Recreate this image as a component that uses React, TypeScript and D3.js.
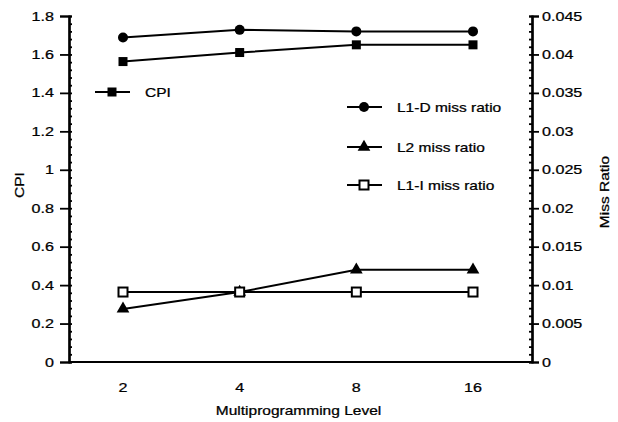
import React, { useEffect, useRef } from "react";
import * as d3 from "d3";

// Multiprogramming levels on the x axis
const levels = ["2", "4", "8", "16"];
// Cycles per instruction (left axis)
const cpi = [1.563, 1.61, 1.65, 1.65];
// Miss ratios (right axis)
const l1dMiss = [0.0422, 0.0432, 0.0430, 0.0430];
const l2Miss = [0.0069, 0.0091, 0.0120, 0.0120];
const l1iMiss = [0.0091, 0.0091, 0.0091, 0.0091];

const leftTicks = [0, 0.2, 0.4, 0.6, 0.8, 1, 1.2, 1.4, 1.6, 1.8];
const rightTicks = [0, 0.005, 0.01, 0.015, 0.02, 0.025, 0.03, 0.035, 0.04, 0.045];

const W = 618;
const H = 422;
const FONT = "'Liberation Sans', Arial, Helvetica, sans-serif";
const STRETCH = 1.24; // wide, Helvetica-style lettering

export default function App() {
  const ref = useRef<SVGSVGElement | null>(null);

  useEffect(() => {
    const svg = d3.select(ref.current);
    svg.selectAll("*").remove();

    const left = 69, right = 532, top = 16, bottom = 362;

    const x = d3.scalePoint<string>().domain(levels).range([123, 473]);
    const yL = d3.scaleLinear().domain([0, 1.8]).range([bottom, top]);
    const yR = d3.scaleLinear().domain([0, 0.045]).range([bottom, top]);
    const fmt = d3.format("~g");

    // text placed at an anchor point, widened horizontally around that point
    const label = (
      parent: any,
      t: string,
      tx: number,
      ty: number,
      anchor: string,
      rot = 0,
      size = 13
    ) =>
      parent
        .append("text")
        .attr("transform", `translate(${tx},${ty}) rotate(${rot}) scale(${STRETCH},1)`)
        .attr("text-anchor", anchor)
        .attr("font-family", FONT)
        .attr("font-size", size)
        .attr("fill", "#000")
        .attr("stroke", "#000")
        .attr("stroke-width", 0.25)
        .text(t);

    const g = svg.append("g");

    // left axis: major ticks outside, minor ticks inside
    const la = g.append("g").attr("transform", `translate(${left},0)`);
    la.call(d3.axisLeft(yL).tickValues(leftTicks).tickSize(9).tickFormat(() => ""));
    la.append("g").call(
      d3.axisRight(yL).tickValues(d3.range(0, 1.8001, 0.04)).tickSize(3).tickFormat(() => "")
    );
    leftTicks.forEach((v) => label(g, fmt(v), left - 15, yL(v) + 4.6, "end"));

    // right axis
    const ra = g.append("g").attr("transform", `translate(${right},0)`);
    ra.call(d3.axisRight(yR).tickValues(rightTicks).tickSize(7).tickFormat(() => ""));
    ra.append("g").call(
      d3.axisLeft(yR).tickValues(d3.range(0, 0.04501, 0.001)).tickSize(3).tickFormat(() => "")
    );
    rightTicks.forEach((v) => label(g, fmt(v), right + 10, yR(v) + 4.6, "start"));

    // bottom axis
    g.append("line")
      .attr("x1", left)
      .attr("x2", right)
      .attr("y1", bottom)
      .attr("y2", bottom)
      .attr("stroke", "#000")
      .attr("stroke-width", 2.2);
    levels.forEach((d) => label(g, d, x(d)!, bottom + 30, "middle"));

    g.selectAll(".domain").attr("stroke", "#000").attr("stroke-width", 2.2);
    g.selectAll(".tick line").attr("stroke", "#000").attr("stroke-width", 1.8);

    // axis titles
    label(svg, "Multiprogramming Level", (left + right) / 2 - 2, 415, "middle", 0, 12.5);
    label(svg, "CPI", 24, 185, "middle", -90, 12.5);
    label(svg, "Miss Ratio", 609, 192, "middle", -90, 12.5);

    const line = (yScale: d3.ScaleLinear<number, number>) =>
      d3.line<number>().x((_, i) => x(levels[i])!).y((d) => yScale(d));

    const series = [
      { data: cpi, y: yL, marker: "sq" },
      { data: l1dMiss, y: yR, marker: "circle" },
      { data: l2Miss, y: yR, marker: "tri" },
      { data: l1iMiss, y: yR, marker: "open" },
    ];

    const drawMarker = (sel: any, kind: string, cx: number, cy: number) => {
      if (kind === "sq") {
        sel.append("rect").attr("x", cx - 4.5).attr("y", cy - 4.5).attr("width", 9).attr("height", 9).attr("fill", "#000");
      } else if (kind === "circle") {
        sel.append("circle").attr("cx", cx).attr("cy", cy).attr("r", 5).attr("fill", "#000");
      } else if (kind === "tri") {
        sel.append("path")
          .attr("d", d3.symbol(d3.symbolTriangle, 70)())
          .attr("transform", `translate(${cx},${cy})`)
          .attr("fill", "#000");
      } else {
        sel.append("rect").attr("x", cx - 4.5).attr("y", cy - 4.5).attr("width", 9).attr("height", 9)
          .attr("fill", "#fff").attr("stroke", "#000").attr("stroke-width", 2);
      }
    };

    const plot = svg.append("g");
    series.forEach((s) => {
      plot.append("path")
        .datum(s.data)
        .attr("d", line(s.y))
        .attr("fill", "none")
        .attr("stroke", "#000")
        .attr("stroke-width", 2);
    });
    series.forEach((s) => {
      const mg = plot.append("g");
      s.data.forEach((v, i) => drawMarker(mg, s.marker, x(levels[i])!, s.y(v)));
    });

    // legend
    const legend = [
      { text: "CPI", marker: "sq", lx: 95, ly: 92 },
      { text: "L1-D miss ratio", marker: "circle", lx: 347, ly: 107 },
      { text: "L2 miss ratio", marker: "tri", lx: 347, ly: 147 },
      { text: "L1-I miss ratio", marker: "open", lx: 347, ly: 185 },
    ];
    const lg = svg.append("g");
    legend.forEach((l) => {
      const e = lg.append("g");
      e.append("line").attr("x1", l.lx).attr("x2", l.lx + 35).attr("y1", l.ly).attr("y2", l.ly)
        .attr("stroke", "#000").attr("stroke-width", 2);
      drawMarker(e, l.marker, l.lx + 17, l.ly);
      label(e, l.text, l.lx + 50, l.ly + 4.5, "start", 0, 12.5);
    });
  }, []);

  return (
    <svg
      ref={ref}
      width={W}
      height={H}
      style={{ position: "absolute", left: 0, top: 0, background: "#fff" }}
    />
  );
}
